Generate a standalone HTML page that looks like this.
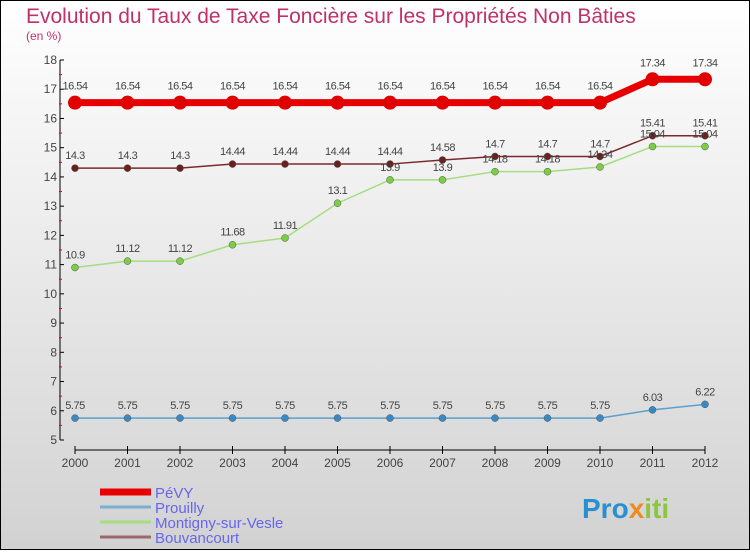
<!DOCTYPE html>
<html><head><meta charset="utf-8"><style>
body{margin:0;width:750px;height:550px;overflow:hidden;font-family:"Liberation Sans",sans-serif}
svg text{font-family:"Liberation Sans",sans-serif}
</style></head><body>
<svg id="c" width="750" height="550" xmlns="http://www.w3.org/2000/svg">
<defs><linearGradient id="bg" x1="0" y1="0" x2="0" y2="1"><stop offset="0" stop-color="#ffffff"/><stop offset="1" stop-color="#d2d2d2"/></linearGradient></defs>
<rect x="0.5" y="0.5" width="749" height="549" fill="url(#bg)" stroke="#000"/>
<text x="26" y="23" font-size="21" fill="#c0306a">Evolution du Taux de Taxe Foncière sur les Propriétés Non Bâties</text>
<text x="26" y="40" font-size="12" fill="#c0306a">(en %)</text>
<g id="axes"></g><g id="series"></g><g id="legend"></g>
<text x="582" y="518" font-size="28" font-weight="bold" fill="#2a8fd0">Pro<tspan fill="#f08a1c">x</tspan><tspan fill="#8cc63f">iti</tspan></text>
</svg>
<script>
const years=[2000,2001,2002,2003,2004,2005,2006,2007,2008,2009,2010,2011,2012];
const yTicks=[5,6,7,8,9,10,11,12,13,14,15,16,17,18];
const seriesNames=["PéVY","Prouilly","Montigny-sur-Vesle","Bouvancourt"];
const pevy=[16.54,16.54,16.54,16.54,16.54,16.54,16.54,16.54,16.54,16.54,16.54,17.34,17.34];
const prouilly=[5.75,5.75,5.75,5.75,5.75,5.75,5.75,5.75,5.75,5.75,5.75,6.03,6.22];
const montigny=[10.9,11.12,11.12,11.68,11.91,13.1,13.9,13.9,14.18,14.18,14.34,15.04,15.04];
const bouv=[14.3,14.3,14.3,14.44,14.44,14.44,14.44,14.58,14.7,14.7,14.7,15.41,15.41];
const NS="http://www.w3.org/2000/svg";
const x=i=>75+i*52.5;
const y=v=>440-(v-5)*(380/13);
function mk(tag,at,parent){const e=document.createElementNS(NS,tag);for(const k in at)e.setAttribute(k,at[k]);parent.appendChild(e);return e;}
const axes=document.getElementById('axes');
let e=mk('line',{x1:60,y1:60,x2:60,y2:440,stroke:'#000'},axes);


e=mk('line',{x1:75,y1:450,x2:705,y2:450,stroke:'#000'},axes);


yTicks.forEach((t,i)=>{
  mk('line',{x1:60,y1:y(t),x2:64,y2:y(t),stroke:'#000'},axes);
  if(i<yTicks.length-1)mk('line',{x1:59,y1:y(t+0.5),x2:62,y2:y(t+0.5),stroke:'#e00'},axes);
  const tx=mk('text',{x:57,y:y(t)+4,'font-size':12,fill:'#444','text-anchor':'end'},axes);
  tx.textContent=t;
  
  
});
years.forEach((yr,i)=>{
  mk('line',{x1:x(i),y1:446,x2:x(i),y2:454,stroke:'#000'},axes);
  const tx=mk('text',{x:x(i),y:467,'font-size':12,fill:'#444','text-anchor':'middle'},axes);
  tx.textContent=yr;
  
  
});
const sg=document.getElementById('series');
const defs=[[bouv,'#7a2a2a','#6b1f1f',1.5,3.5,'bouvancourt'],[montigny,'#a6dd80','#7ccc44',1.5,3.5,'montigny-sur-vesle'],[prouilly,'#5a9fd0','#3a88c4',1.5,3.5,'prouilly'],[pevy,'#e80000','#e00000',7,7,'pevy']];
defs.forEach(([d,lc,pc,w,r,name])=>{
  const g=mk('g',{},sg);
  
  
  const p=mk('polyline',{points:d.map((v,i)=>x(i)+','+y(v)).join(' '),fill:'none',stroke:lc,'stroke-width':w},g);
  
  
  d.forEach((v,i)=>{
    const c=mk('circle',{cx:x(i),cy:y(v),r:r,fill:pc,stroke:w>3?'none':'#555','stroke-width':0.5},g);
    
    
    const t=mk('text',{x:x(i),y:y(v)-(w>3?13:9),'font-size':11,fill:'#444','text-anchor':'middle','letter-spacing':'-0.5'},g);
    t.textContent=v;
    
    
  });
});
const lg=document.getElementById('legend');
const lcol=['#e80000','#7aaed4','#a6dd80','#9a6a6a'];
const lw=[7,3,3,3];
seriesNames.forEach((n,i)=>{
  const yy=492+i*15;
  const g=mk('g',{},lg);
  
  
  mk('line',{x1:100,y1:yy,x2:151,y2:yy,stroke:lcol[i],'stroke-width':lw[i]},g);
  const t=mk('text',{x:155,y:yy+6,'font-size':15,fill:'#6666ee'},g);
  t.textContent=n;
});
</script>
</body></html>
